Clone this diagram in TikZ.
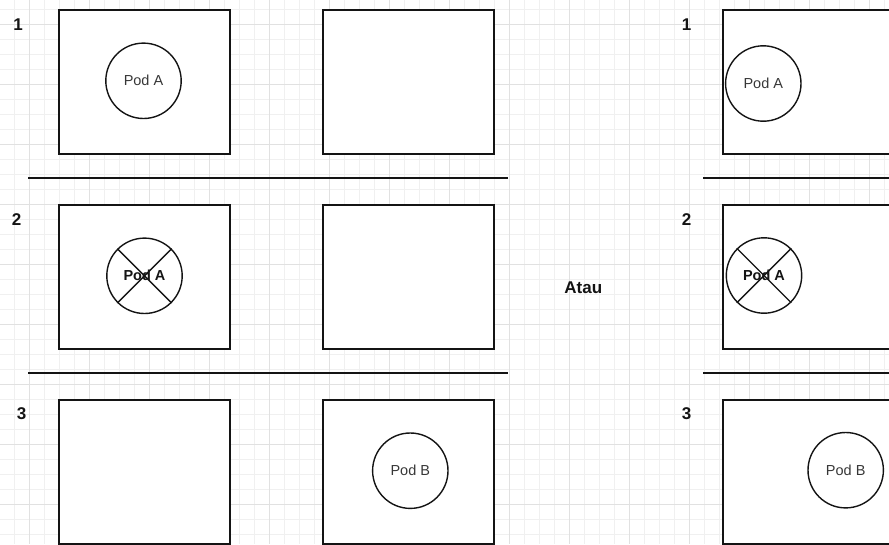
\documentclass[tikz,border=0pt]{standalone}
\usepackage{fontspec}
\setmainfont{Liberation Sans}
\definecolor{gridminor}{RGB}{240,240,240}
\definecolor{gridmajor}{RGB}{225,225,225}
\definecolor{ink}{RGB}{20,20,20}
\begin{document}
\begin{tikzpicture}[x=1pt,y=-1pt,
  box/.style={draw=ink, line width=2pt, fill=white, rectangle, minimum width=171pt, minimum height=143.7pt, inner sep=0pt, anchor=north west},
  pod/.style={draw=ink, line width=1.4pt, fill=white, circle, minimum size=75.4pt, inner sep=0pt, font=\fontsize{14.5}{17}\selectfont, text=ink!85},
  podx/.style={pod, text=ink, font=\bfseries\fontsize{14.5}{17}\selectfont},
  xline/.style={draw=ink, line width=1.4pt},
  num/.style={font=\bfseries\fontsize{17}{20}\selectfont, inner sep=0pt, text=ink},
  sep/.style={draw=ink, line width=2pt},
  gminor/.style={draw=gridminor, line width=1pt},
  gmajor/.style={draw=gridmajor, line width=1pt}
]
\useasboundingbox (0,0) rectangle (889,544);
\clip (0,0) rectangle (889,544);
\fill[white] (0,0) rectangle (889,544);
% grid
\foreach \i in {0,...,58} {\draw[gminor] ({14.3+15*\i},0) -- ({14.3+15*\i},544);}
\foreach \i in {0,...,35} {\draw[gminor] (0,{9.3+15*\i}) -- (889,{9.3+15*\i});}
\foreach \i in {0,...,14} {\draw[gmajor] ({29.3+60*\i},0) -- ({29.3+60*\i},544);}
\foreach \i in {0,...,8} {\draw[gmajor] (0,{24.3+60*\i}) -- (889,{24.3+60*\i});}

% left part, row 1
\node[num] (n1) at (18,24.5) {1};
\node[box] (b1l) at (57.7,9) {};
\node[box] (b1r) at (322.3,9) {};
\node[pod] (c1) at (143.5,80.8) {Pod A};
% row 2
\node[num] (n2) at (16.5,219.5) {2};
\node[box] (b2l) at (57.7,204) {};
\node[box] (b2r) at (322.3,204) {};
\node[podx] (c2) at (144.5,275.8) {Pod A};
\draw[xline] (c2.45) -- (c2.225);
\draw[xline] (c2.135) -- (c2.315);
% row 3
\node[num] (n3) at (21.7,414) {3};
\node[box] (b3l) at (57.7,399) {};
\node[box] (b3r) at (322.3,399) {};
\node[pod] (c3) at (410.3,470.7) {Pod B};
% separators
\coordinate (s1a) at (28,178.3); \coordinate (s1b) at (508,178.3);
\coordinate (s2a) at (28,373.3); \coordinate (s2b) at (508,373.3);
\draw[sep] (s1a) -- (s1b);
\draw[sep] (s2a) -- (s2b);

% middle
\node[font=\bfseries\fontsize{17}{20}\selectfont, text=ink, inner sep=0pt] (atau) at (583.3,288) {Atau};

% right part
\node[num] (rn1) at (686.5,24.5) {1};
\node[box] (rb1) at (721.7,9) {};
\node[pod] (rc1) at (763.3,83.5) {Pod A};
\node[num] (rn2) at (686.5,219.5) {2};
\node[box] (rb2) at (721.7,204) {};
\node[podx] (rc2) at (764,275.5) {Pod A};
\draw[xline] (rc2.45) -- (rc2.225);
\draw[xline] (rc2.135) -- (rc2.315);
\node[num] (rn3) at (686.5,414) {3};
\node[box] (rb3) at (721.7,399) {};
\node[pod] (rc3) at (845.7,470.2) {Pod B};
\coordinate (r1a) at (703,178.3); \coordinate (r1b) at (895,178.3);
\coordinate (r2a) at (703,373.3); \coordinate (r2b) at (895,373.3);
\draw[sep] (r1a) -- (r1b);
\draw[sep] (r2a) -- (r2b);
\end{tikzpicture}
\end{document}
